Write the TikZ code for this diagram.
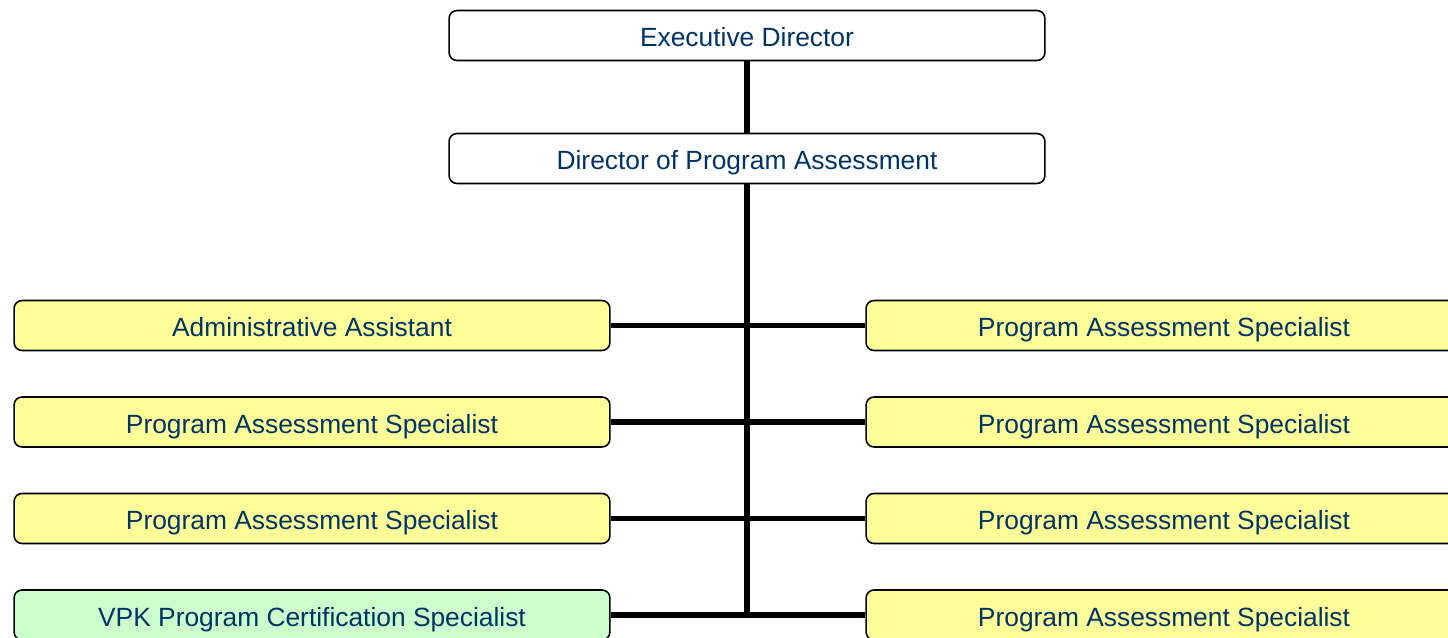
\documentclass[tikz,border=0pt]{standalone}
\usepackage{fontspec}
\setmainfont{Liberation Sans}
\definecolor{textblue}{RGB}{0,51,102}
\definecolor{boxyellow}{RGB}{255,255,153}
\definecolor{boxgreen}{RGB}{204,255,204}
\begin{document}
\begin{tikzpicture}[x = 0.02cm, y = -0.02cm,
                        post/.style = {draw, line width = 0.9pt, rounded corners = 0.16cm,
                                       minimum width = 11.92cm, minimum height = 1cm,
                                       text height = 13pt, text depth = 0pt,
                                       text = textblue, font = \fontsize{15}{18}\selectfont},
                        head/.style = {post, fill = white},
                        staff/.style = {post, fill = boxyellow},
                        vpk/.style = {post, fill = boxgreen},
                        link/.style = {line width = 2.9pt}]
    \clip (0, 0) rectangle (1448, 638);
    \fill [white] (0, 0) rectangle (1448, 638);
    \coordinate (bottom) at (747, 615);
    \node [head] (exec) at (747, 35.5){Executive Director};
    \node [head] (dpa) at (747, 158.5){Director of Program Assessment};
    \node [staff] (l1) at (312, 325.5){Administrative Assistant};
    \node [staff] (l2) at (312, 422){Program Assessment Specialist};
    \node [staff] (l3) at (312, 518.5){Program Assessment Specialist};
    \node [vpk] (l4) at (312, 615){VPK Program Certification Specialist};
    \node [staff] (r1) at (1164, 325.5){Program Assessment Specialist};
    \node [staff] (r2) at (1164, 422){Program Assessment Specialist};
    \node [staff] (r3) at (1164, 518.5){Program Assessment Specialist};
    \node [staff] (r4) at (1164, 615){Program Assessment Specialist};
    \draw [link] (exec)--(dpa);
    \draw [link] (dpa.south)--(bottom);
    \draw [link] (l1)--(r1);
    \draw [link] (l2)--(r2);
    \draw [link] (l3)--(r3);
    \draw [link] (l4)--(r4);
  \end{tikzpicture}
\end{document}
